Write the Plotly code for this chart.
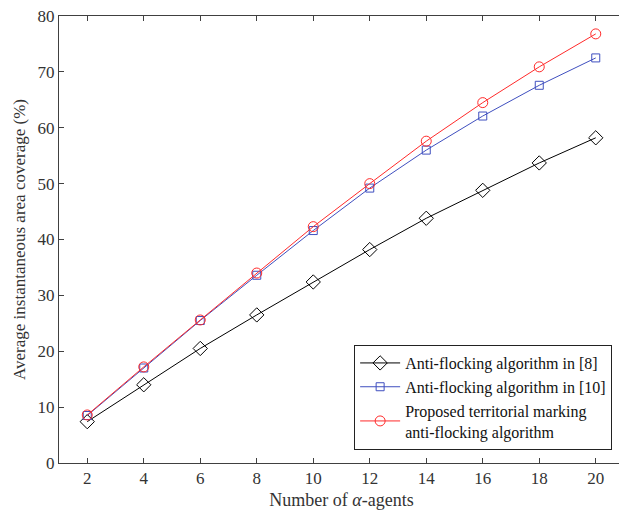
import plotly.graph_objects as go

agents = [2, 4, 6, 8, 10, 12, 14, 16, 18, 20]
anti8 = [7.4, 14.0, 20.5, 26.5, 32.4, 38.2, 43.8, 48.8, 53.7, 58.2]
anti10 = [8.5, 17.0, 25.5, 33.6, 41.6, 49.2, 56.0, 62.1, 67.6, 72.5]
proposed = [8.6, 17.2, 25.6, 34.0, 42.3, 50.0, 57.6, 64.5, 70.9, 76.8]

names = ["Anti-flocking algorithm in [8]",
         "Anti-flocking algorithm in [10]",
         "Proposed territorial marking<br>anti-flocking algorithm"]

font = "Liberation Serif, Times New Roman, serif"

fig = go.Figure()
fig.add_trace(go.Scatter(x=agents, y=anti8, name=names[0], mode="lines+markers",
                         line=dict(color="black", width=1),
                         marker=dict(symbol="diamond-open", size=11, color="black", line=dict(width=1))))
fig.add_trace(go.Scatter(x=agents, y=anti10, name=names[1], mode="lines+markers",
                         line=dict(color="#3F4FBF", width=1),
                         marker=dict(symbol="square-open", size=8, color="#3F4FBF", line=dict(width=1))))
fig.add_trace(go.Scatter(x=agents, y=proposed, name=names[2], mode="lines+markers",
                         line=dict(color="#FF2A2A", width=1),
                         marker=dict(symbol="circle-open", size=10, color="#FF2A2A", line=dict(width=1))))

axis_common = dict(showline=True, linecolor="#404040", linewidth=1, mirror="ticks",
                   ticks="inside", ticklen=5, tickcolor="#404040", showgrid=False,
                   zeroline=False, ticklabeloverflow="allow",
                   tickfont=dict(family=font, size=17, color="#333333"))

fig.update_layout(
    width=619, height=505,
    margin=dict(l=51, r=3, t=8, b=50),
    paper_bgcolor="white", plot_bgcolor="white",
    font=dict(family=font, color="#333333"),
    xaxis=dict(range=[1, 21], tickvals=agents,
               title=dict(text="Number of <i>α</i>-agents", font=dict(family=font, size=18), standoff=5),
               automargin=False, **axis_common),
    yaxis=dict(range=[0, 80], tickvals=list(range(0, 81, 10)),
               title=dict(text="Average instantaneous area coverage (%)", font=dict(family=font, size=17), standoff=7),
               automargin=False, **axis_common),
    legend=dict(x=0.979, y=0.029, xanchor="right", yanchor="bottom",
                bordercolor="#222222", borderwidth=1, bgcolor="white",
                font=dict(family=font, size=16, color="#111111"),
                tracegroupgap=0, itemwidth=40),
)

fig.write_html("out.html")
